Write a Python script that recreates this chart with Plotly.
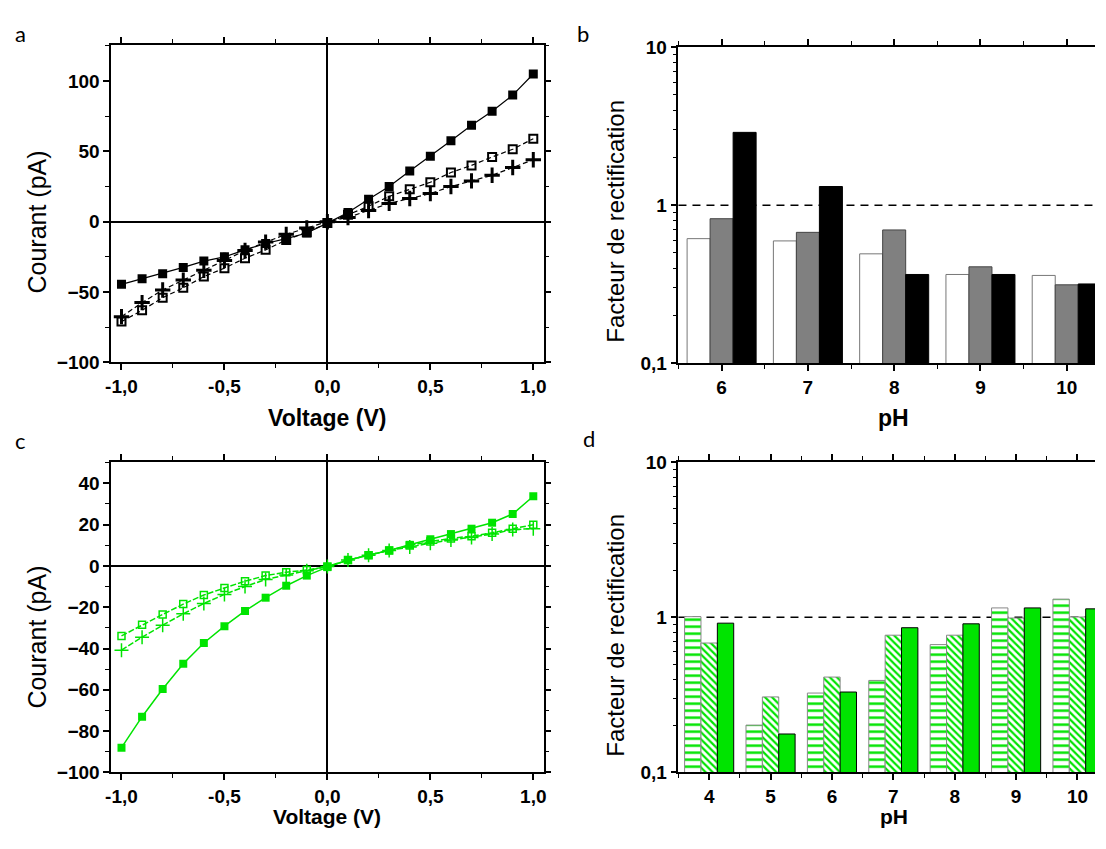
import plotly.graph_objects as go

# ---------------- data ----------------
voltage = [-1.0, -0.9, -0.8, -0.7, -0.6, -0.5, -0.4, -0.3, -0.2, -0.1, 0.0,
           0.1, 0.2, 0.3, 0.4, 0.5, 0.6, 0.7, 0.8, 0.9, 1.0]

# panel a (black)
a_filled = [-44.5, -40.5, -37, -32.5, -28, -25, -20, -15.5, -12, -8, -1,
            6.5, 16, 25, 36, 46.5, 57.5, 68.5, 78.5, 90, 105]
a_open = [-71, -63, -54, -47, -39, -33, -26, -20, -13, -7.5, -1,
          5, 11, 18, 23, 28, 35, 40, 46, 51.5, 59]
a_plus = [-67.5, -57.5, -48.5, -41.5, -34.5, -27.5, -20.5, -14.5, -9, -4.5, 0,
          3, 8, 13, 16.5, 20, 25, 29, 33, 38.5, 44]

# panel c (green)
c_filled = [-88, -73, -59.6, -47.4, -37.3, -29.2, -21.8, -15.4, -9.6, -4.7, -0.6,
            2.8, 5.2, 7.5, 10.2, 12.9, 15.4, 18, 20.9, 25.1, 33.7]
c_open = [-33.9, -28.5, -23.5, -18.5, -14.1, -10.7, -7.4, -4.7, -3.1, -2, -0.3,
          2.8, 5.2, 7.5, 9.9, 11.8, 13.3, 14.4, 16, 18, 19.9]
c_plus = [-40.8, -34.5, -28.7, -23.2, -18.2, -13.8, -10, -6.6, -4.4, -2.4, -0.3,
          2.8, 5.2, 7.5, 9.1, 11, 12.5, 13.8, 15.4, 17.6, 18]

# panel b (rectification factor)
ph_b = [6, 7, 8, 9, 10]
b_white = [0.615, 0.595, 0.493, 0.365, 0.36]
b_gray = [0.822, 0.674, 0.698, 0.408, 0.314]
b_black = [2.89, 1.314, 0.365, 0.365, 0.318]

# panel d
ph_d = [4, 5, 6, 7, 8, 9, 10]
d_horiz = [1.01, 0.202, 0.325, 0.392, 0.667, 1.15, 1.31]
d_diag = [0.683, 0.307, 0.412, 0.767, 0.767, 0.99, 1.005]
d_solid = [0.917, 0.177, 0.33, 0.857, 0.908, 1.15, 1.134]

volt_ticks = [-1.0, -0.5, 0.0, 0.5, 1.0]
volt_ticktext = ["-1,0", "-0,5", "0,0", "0,5", "1,0"]
log_ticks = [0.1, 1, 10]
log_ticktext = ["0,1", "1", "10"]

# ---------------- styling ----------------
PAGE_OFF = 8          # default body margin of the html page
FW, FH = 1106 - 2 * PAGE_OFF, 849 - 2 * PAGE_OFF
GREEN = "#00E400"
FONT = "Liberation Sans, Arial, sans-serif"
VS, VO = 0.977, 10.0  # observed vertical mapping of the captured page


def fx(p):
    return (p - PAGE_OFF) / FW


def fy(t):
    p = (t - VO) / VS
    return 1 - (p - PAGE_OFF) / FH


fig = go.Figure()

# panel a traces
fig.add_trace(go.Scatter(x=voltage, y=a_filled, mode="lines+markers",
                         line=dict(color="black", width=1.2),
                         marker=dict(symbol="square", size=9, color="black"),
                         xaxis="x", yaxis="y", showlegend=False))
fig.add_trace(go.Scatter(x=voltage, y=a_open, mode="lines+markers",
                         line=dict(color="black", width=1.2, dash="5px,3px"),
                         marker=dict(symbol="square-open", size=8, color="black",
                                     line=dict(width=2, color="black")),
                         xaxis="x", yaxis="y", showlegend=False))
fig.add_trace(go.Scatter(x=voltage, y=a_plus, mode="lines+markers",
                         line=dict(color="black", width=1.2, dash="5px,3px"),
                         marker=dict(symbol="cross-thin", size=11, color="black",
                                     line=dict(width=3, color="black")),
                         xaxis="x", yaxis="y", showlegend=False))

# panel c traces
fig.add_trace(go.Scatter(x=voltage, y=c_filled, mode="lines+markers",
                         line=dict(color=GREEN, width=1.5),
                         marker=dict(symbol="square", size=8, color=GREEN),
                         xaxis="x3", yaxis="y3", showlegend=False))
fig.add_trace(go.Scatter(x=voltage, y=c_open, mode="lines+markers",
                         line=dict(color=GREEN, width=1.5, dash="6px,2px"),
                         marker=dict(symbol="square-open", size=7, color=GREEN,
                                     line=dict(width=1.5, color=GREEN)),
                         xaxis="x3", yaxis="y3", showlegend=False))
fig.add_trace(go.Scatter(x=voltage, y=c_plus, mode="lines+markers",
                         line=dict(color=GREEN, width=1.5, dash="6px,2px"),
                         marker=dict(symbol="cross-thin", size=10, color=GREEN,
                                     line=dict(width=1.5, color=GREEN)),
                         xaxis="x3", yaxis="y3", showlegend=False))

# panel b bars
fig.add_trace(go.Bar(x=ph_b, y=b_white, marker=dict(color="white", line=dict(color="#777777", width=1)),
                     xaxis="x2", yaxis="y2", offsetgroup="b1", showlegend=False))
fig.add_trace(go.Bar(x=ph_b, y=b_gray, marker=dict(color="#808080", line=dict(color="#444444", width=1)),
                     xaxis="x2", yaxis="y2", offsetgroup="b2", showlegend=False))
fig.add_trace(go.Bar(x=ph_b, y=b_black, marker=dict(color="black", line=dict(color="black", width=1)),
                     xaxis="x2", yaxis="y2", offsetgroup="b3", showlegend=False))

# panel d bars
fig.add_trace(go.Bar(x=ph_d, y=d_horiz,
                     marker=dict(color="white", line=dict(color="#888888", width=1),
                                 pattern=dict(shape="-", fgcolor=GREEN, bgcolor="white",
                                              fgopacity=1, size=7, solidity=0.35,
                                              fillmode="overlay")),
                     xaxis="x4", yaxis="y4", offsetgroup="d1", showlegend=False))
fig.add_trace(go.Bar(x=ph_d, y=d_diag,
                     marker=dict(color="white", line=dict(color="#888888", width=1),
                                 pattern=dict(shape="\\", fgcolor=GREEN, bgcolor="white",
                                              fgopacity=1, size=5, solidity=0.45,
                                              fillmode="overlay")),
                     xaxis="x4", yaxis="y4", offsetgroup="d2", showlegend=False))
fig.add_trace(go.Bar(x=ph_d, y=d_solid,
                     marker=dict(color=GREEN, line=dict(color="black", width=1)),
                     xaxis="x4", yaxis="y4", offsetgroup="d3", showlegend=False))

tickfont = dict(family=FONT, size=19, color="black", weight="bold")

common_axis = dict(showline=True, linecolor="black", linewidth=1.5, ticks="outside",
                   tickcolor="black", tickwidth=1.5, ticklen=6, showgrid=False,
                   tickfont=tickfont, mirror="ticks")
minor_lin = dict(ticks="outside", ticklen=4, tickcolor="black", tickwidth=1.2)
minor_log = dict(tickvals=[0.2, 0.3, 0.4, 0.5, 0.6, 0.7, 0.8, 0.9,
                           2, 3, 4, 5, 6, 7, 8, 9],
                 ticks="outside", ticklen=4, tickcolor="black", tickwidth=1.2)

dom_top_a = [fy(363), fy(45)]
dom_top_b = [fy(364), fy(47)]
dom_bot = [fy(774), fy(463)]
dom_left = [fx(106), fx(542)]
dom_right = [fx(678), 1.0]
right_px = PAGE_OFF + FW

fig.update_layout(
    width=FW, height=FH,
    margin=dict(l=0, r=0, t=0, b=0),
    paper_bgcolor="white", plot_bgcolor="white",
    barmode="group", bargap=0.2, bargroupgap=0,
    xaxis=dict(common_axis, domain=dom_left, anchor="y", range=[-1.05, 1.05],
               tickvals=volt_ticks, ticktext=volt_ticktext,
               zeroline=True, zerolinecolor="black", zerolinewidth=1.5,
               minor=dict(minor_lin, dtick=0.25, tick0=0)),
    yaxis=dict(common_axis, domain=dom_top_a, anchor="x", range=[-100, 125.5],
               tickvals=[-100, -50, 0, 50, 100],
               zeroline=True, zerolinecolor="black", zerolinewidth=1.5,
               minor=dict(minor_lin, dtick=25, tick0=0)),
    xaxis3=dict(common_axis, domain=dom_left, anchor="y3", range=[-1.05, 1.05],
                tickvals=volt_ticks, ticktext=volt_ticktext,
                zeroline=True, zerolinecolor="black", zerolinewidth=1.5,
                minor=dict(minor_lin, dtick=0.25, tick0=0)),
    yaxis3=dict(common_axis, domain=dom_bot, anchor="x3", range=[-100, 50.2],
                tickvals=[-100, -80, -60, -40, -20, 0, 20, 40],
                zeroline=True, zerolinecolor="black", zerolinewidth=1.5,
                minor=dict(minor_lin, dtick=10, tick0=0)),
    xaxis2=dict(common_axis, domain=dom_right, anchor="y2",
                range=[5.5, 5.5 + (right_px - 678) / 87.0],
                tickvals=ph_b, zeroline=False,
                minor=dict(minor_lin, dtick=0.5, tick0=0)),
    yaxis2=dict(common_axis, domain=dom_top_b, anchor="x2", type="log",
                range=[-1, 1], tickvals=log_ticks, ticktext=log_ticktext, mirror=False,
                minor=minor_log),
    xaxis4=dict(common_axis, domain=dom_right, anchor="y4",
                range=[3.5, 3.5 + (right_px - 678) / 61.9],
                tickvals=ph_d, zeroline=False,
                minor=dict(minor_lin, dtick=0.5, tick0=0)),
    yaxis4=dict(common_axis, domain=dom_bot, anchor="x4", type="log",
                range=[-1, 1], tickvals=log_ticks, ticktext=log_ticktext, mirror=False,
                minor=minor_log),
)

# dashed reference line at 1
for xr, yr in (("x2 domain", "y2"), ("x4 domain", "y4")):
    fig.add_shape(type="line", xref=xr, yref=yr, x0=0, x1=1, y0=1, y1=1,
                  line=dict(color="black", width=1.5, dash="8px,6px"), layer="below")

# annotations: panel letters and axis titles
ann = []
letter_font = dict(family="Lato", size=22, color="black")
for letter, x in (("a", 15), ("b", 582)):
    ann.append(dict(text=letter, x=fx(x), y=1.0, xref="paper", yref="paper",
                    showarrow=False, xanchor="center", yanchor="top", font=letter_font))
for letter, x, y in (("c", 15, 441), ("d", 588, 439)):
    ann.append(dict(text=letter, x=fx(x), y=fy(y), xref="paper", yref="paper",
                    showarrow=False, xanchor="center", yanchor="middle", font=letter_font))

for text, y in (("Courant (pA)", 222), ("Courant (pA)", 638)):
    ann.append(dict(text=text, x=fx(31), y=fy(y), xref="paper", yref="paper",
                    showarrow=False, textangle=-90, xanchor="center", yanchor="middle",
                    font=dict(family=FONT, size=25, color="black")))
for text, y in (("Facteur de rectification", 221), ("Facteur de rectification", 636)):
    ann.append(dict(text=text, x=fx(615), y=fy(y), xref="paper", yref="paper",
                    showarrow=False, textangle=-90, xanchor="center", yanchor="middle",
                    font=dict(family=FONT, size=24, color="black")))
xtitle_font = dict(family=FONT, size=23, color="black", weight="bold")
for text, x in (("Voltage (V)", 324), ("pH", 895)):
    ann.append(dict(text=text, x=fx(x), y=fy(419), xref="paper", yref="paper",
                    showarrow=False, xanchor="center", yanchor="middle", font=xtitle_font))
for text, x in (("Voltage (V)", 324), ("pH", 895)):
    ann.append(dict(text=text, x=fx(x), y=0.0, xref="paper", yref="paper",
                    showarrow=False, xanchor="center", yanchor="bottom",
                    font=dict(xtitle_font, size=21)))
fig.update_layout(annotations=ann)

fig.write_html("out.html")
